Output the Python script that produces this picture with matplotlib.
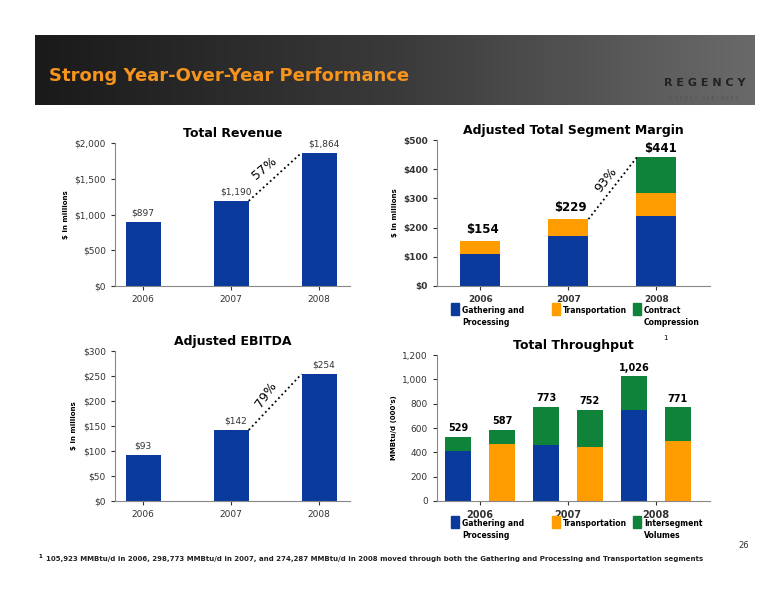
import matplotlib
matplotlib.use("Agg")
import matplotlib.pyplot as plt
import numpy as np
from matplotlib.patches import Rectangle

years = ["2006", "2007", "2008"]
revenue = [897, 1190, 1864]
revenue_lbl = ["$897", "$1,190", "$1,864"]
ebitda = [93, 142, 254]
ebitda_lbl = ["$93", "$142", "$254"]
margin_gp = [110, 170, 240]
margin_tr = [44, 59, 80]
margin_cc = [0, 0, 121]
margin_lbl = ["$154", "$229", "$441"]
thr_base = [415, 470, 460, 445, 745, 490]
thr_inter = [114, 117, 313, 307, 281, 281]
thr_lbl = ["529", "587", "773", "752", "1,026", "771"]
thr_base_kind = ["gp", "tr", "gp", "tr", "gp", "tr"]

BLUE = "#0a3a9c"; ORANGE = "#ff9c00"; GREEN = "#10833a"; TORANGE = "#f7941d"
W, H = 776, 600
fig = plt.figure(figsize=(7.76, 6), dpi=100)

def ax_px(x0, y0, x1, y1):
    return fig.add_axes([x0 / W, 1 - y1 / H, (x1 - x0) / W, (y1 - y0) / H])

# header
hdr = fig.add_axes([35 / W, 1 - 105 / H, 720 / W, 70 / H])
grad = np.linspace(0, 1, 256)[None, :]
hdr.imshow(grad, aspect="auto", cmap=matplotlib.colors.LinearSegmentedColormap.from_list("g", ["#1a1a1a", "#3a3a3a", "#6a6a6a"]), extent=[0, 1, 0, 1])
hdr.set_axis_off()
hdr.text(0.02, 0.42, "Strong Year-Over-Year Performance", color=TORANGE, fontsize=13, fontweight="bold", va="center", transform=hdr.transAxes)
hdr.text(0.93, 0.32, "R E G E N C Y", color="#222222", fontsize=8, fontweight="bold", ha="center", va="center", transform=hdr.transAxes)
hdr.text(0.93, 0.1, "E N E R G Y   P A R T N E R S", color="#555555", fontsize=3.5, ha="center", va="center", transform=hdr.transAxes)

def style(ax):
    for s in ["top", "right"]:
        ax.spines[s].set_visible(False)
    ax.spines["left"].set_color("#888888"); ax.spines["bottom"].set_color("#888888")
    ax.tick_params(colors="#333333", length=3)

def growth(ax, x0, y0, x1, y1, txt, ang, dx=0.0, dy=0.0):
    ax.plot([x0, x1], [y0, y1], ls=":", color="black", lw=1.3)
    ax.text((x0 + x1) / 2 + dx, (y0 + y1) / 2 + dy, txt, rotation=ang, ha="center", va="center", fontsize=9)

# Total revenue
ax = ax_px(115, 143, 350, 286)
x = np.arange(3)
ax.bar(x, revenue, 0.4, color=BLUE)
for i, v in enumerate(revenue):
    ax.text(i + (0.05 if i else 0), v + 60, revenue_lbl[i], ha="center", va="bottom", fontsize=6.5, color="#333333")
ax.set_xlim(-0.32, 2.35); ax.set_ylim(0, 2000)
ax.set_yticks(range(0, 2001, 500)); ax.set_yticklabels(["$0", "$500", "$1,000", "$1,500", "$2,000"], fontsize=6.5)
ax.set_xticks(x); ax.set_xticklabels(years, fontsize=6.5)
ax.set_ylabel("$ in millions", fontsize=5, fontweight="bold")
ax.set_title("Total Revenue", fontsize=9, fontweight="bold", pad=4)
growth(ax, 1.2, revenue[1], 1.8, revenue[2], "57%", 40, -0.12, 120)
style(ax)

# Adjusted EBITDA
ax = ax_px(115, 351, 350, 501)
ax.bar(x, ebitda, 0.4, color=BLUE)
for i, v in enumerate(ebitda):
    ax.text(i + (0.05 if i else 0), v + 9, ebitda_lbl[i], ha="center", va="bottom", fontsize=6.5, color="#333333")
ax.set_xlim(-0.32, 2.35); ax.set_ylim(0, 300)
ax.set_yticks(range(0, 301, 50)); ax.set_yticklabels(["$0", "$50", "$100", "$150", "$200", "$250", "$300"], fontsize=6.5)
ax.set_xticks(x); ax.set_xticklabels(years, fontsize=6.5)
ax.set_ylabel("$ in millions", fontsize=5, fontweight="bold")
ax.set_title("Adjusted EBITDA", fontsize=9, fontweight="bold", pad=4)
growth(ax, 1.2, ebitda[1], 1.8, ebitda[2], "79%", 55, -0.1, 15)
style(ax)

# Segment margin
ax = ax_px(437, 140, 710, 286)
ax.bar(x, margin_gp, 0.45, color=BLUE)
ax.bar(x, margin_tr, 0.45, bottom=margin_gp, color=ORANGE)
ax.bar(x, margin_cc, 0.45, bottom=np.add(margin_gp, margin_tr), color=GREEN)
tots = np.add(np.add(margin_gp, margin_tr), margin_cc)
for i, v in enumerate(tots):
    ax.text(i + (0.03 if i < 2 else 0.05), v + 18 if i < 2 else v + 8, margin_lbl[i], ha="center", va="bottom", fontsize=8.5, fontweight="bold")
ax.set_xlim(-0.49, 2.61); ax.set_ylim(0, 500)
ax.set_yticks(range(0, 501, 100)); ax.set_yticklabels(["$0", "$100", "$200", "$300", "$400", "$500"], fontsize=6.5, fontweight="bold")
ax.set_xticks(x); ax.set_xticklabels(years, fontsize=6.5, fontweight="bold")
ax.set_ylabel("$ in millions", fontsize=5, fontweight="bold")
ax.set_title("Adjusted Total Segment Margin", fontsize=9, fontweight="bold", pad=4)
growth(ax, 1.23, tots[1], 1.78, tots[2], "93%", 52, -0.08, 30)
style(ax)

# Throughput
ax = ax_px(437, 355, 710, 501)
xt = np.arange(6)
cols = [BLUE if k == "gp" else ORANGE for k in thr_base_kind]
ax.bar(xt, thr_base, 0.6, color=cols)
ax.bar(xt, thr_inter, 0.6, bottom=thr_base, color=GREEN)
tt = np.add(thr_base, thr_inter)
for i, v in enumerate(tt):
    ax.text(i, v + 30, thr_lbl[i], ha="center", va="bottom", fontsize=7, fontweight="bold")
ax.set_xlim(-0.48, 5.73); ax.set_ylim(0, 1200)
ax.set_yticks(range(0, 1201, 200)); ax.set_yticklabels(["0", "200", "400", "600", "800", "1,000", "1,200"], fontsize=6.5)
ax.set_xticks([0.5, 2.5, 4.5]); ax.set_xticklabels(years, fontsize=7, fontweight="bold")
ax.tick_params(axis="x", length=0)
ax.set_ylabel("MMBtu/d (000's)", fontsize=5, fontweight="bold")
ax.set_title("Total Throughput", fontsize=9, fontweight="bold", pad=4)
ax.text(0.83, 1.1, "1", transform=ax.transAxes, fontsize=5)
style(ax)

# legends
ov = fig.add_axes([0, 0, 1, 1]); ov.set_axis_off(); ov.set_xlim(0, W); ov.set_ylim(H, 0)
def legend(y, labels):
    for (xx, col, lab) in labels:
        ov.add_patch(Rectangle((xx, y - 6), 8, 12, color=col))
        ov.text(xx + 11, y - 3, lab, fontsize=5.5, fontweight="bold", va="top", linespacing=1.4)
legend(309, [(451, BLUE, "Gathering and\nProcessing"), (552, ORANGE, "Transportation"), (633, GREEN, "Contract\nCompression")])
legend(522, [(451, BLUE, "Gathering and\nProcessing"), (552, ORANGE, "Transportation"), (633, GREEN, "Intersegment\nVolumes")])

ov.text(738, 548, "26", fontsize=6, color="#333333")
ov.text(38, 557, "1", fontsize=4, fontweight="bold", va="center")
ov.text(46, 559, "105,923 MMBtu/d in 2006, 298,773 MMBtu/d in 2007, and 274,287 MMBtu/d in 2008 moved through both the Gathering and Processing and Transportation segments",
        fontsize=5, fontweight="bold", va="center", color="#222222")

fig.savefig("out.png", dpi=100)
